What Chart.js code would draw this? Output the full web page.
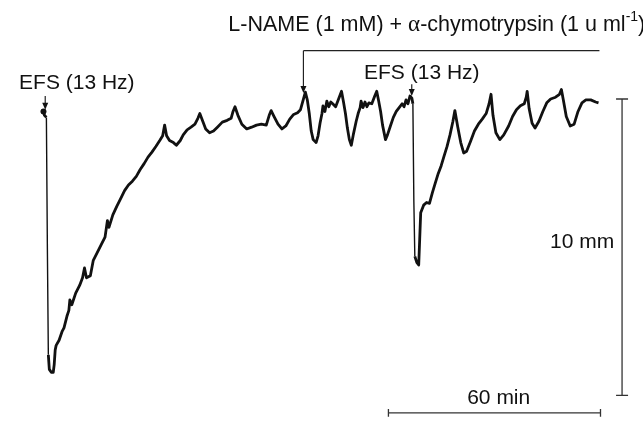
<!DOCTYPE html>
<html>
<head>
<meta charset="utf-8">
<script src="https://cdn.jsdelivr.net/npm/chart.js@4.4.0/dist/chart.umd.min.js"></script>
<style>
  html, body { margin: 0; padding: 0; background: #fff; }
  #trace { display: block; }
</style>
</head>
<body>
<canvas id="trace" width="643" height="424"></canvas>
<script>
// time (min) and tension (mm)
var timeMin = [0, 0.28, 0.83, 1.11, 1.38, 1.66, 2.21, 2.77, 3.04, 3.32, 3.59, 4.42, 5.25, 5.81, 6.64, 7.19, 7.47, 8.02, 9.12, 10.23,
  11.06, 11.61, 12.17, 13.27, 14.10, 15.21, 16.31, 17.42, 18.10, 18.53, 19.63, 20.74, 21.84, 22.95, 24.05, 25.16, 26.27, 27.37, 28.48, 29.58, 30.69,
  31.80, 32.90, 33.73, 34.28, 34.84, 35.67, 36.77, 37.60, 38.71, 39.54, 40.64, 41.75, 42.86, 43.69, 44.24, 45.07, 45.90, 47.00, 48.11, 49.21,
  50.60, 51.98, 53.09, 53.64, 54.19, 55.02, 56.13, 57.51, 58.89, 60.28, 61.66, 63.04, 63.87, 64.42, 65.25, 66.36, 67.46, 68.57, 69.68, 70.78,
  71.89, 72.72, 73.55, 74.10, 74.65, 75.21, 75.76, 76.31, 77.14, 77.69, 78.25, 78.80, 79.08, 79.63, 80.18, 80.74, 81.29, 81.84, 82.67, 83.50,
  84.33, 84.89, 85.44, 85.99, 86.55, 87.10, 87.65, 88.48, 89.03, 89.59, 89.86, 90.41, 90.97, 91.52, 92.07, 92.90, 93.73, 94.29, 94.84, 95.39,
  95.94, 96.77, 97.33, 98.16, 98.99, 99.82, 100.64, 101.47, 102.03, 102.58, 103.13, 103.69, 104.24, 104.52, 104.79, 105.07, 105.62, 106.17, 106.45, 106.73,
  107.56, 108.39, 109.21, 110.04, 110.87, 111.70, 112.53, 113.36, 114.19, 115.02, 115.85, 116.40, 117.23, 118.06, 118.89, 119.72, 120.82, 121.93, 123.04, 124.14,
  125.25, 126.08, 126.63, 127.18, 128.01, 129.12, 130.23, 131.61, 132.72, 133.82, 134.93, 136.03, 136.59, 136.86, 137.42, 138.25, 139.08, 140.18, 141.29, 142.39,
  143.50, 144.88, 145.99, 146.54, 147.09, 147.92, 149.03, 150.14, 151.24, 152.35, 153.46, 154.84, 156.22, 157.04];

var tensionMm = [9.58, 9.45, 9.38, 4.95, 1.37, 0.88, 0.78, 0.78, 1.04, 1.53, 1.69, 1.86, 2.15, 2.28, 2.67, 2.87, 3.22, 3.06, 3.45, 3.71,
  3.97, 4.30, 3.97, 4.04, 4.56, 4.82, 5.08, 5.34, 5.90, 5.67, 6.09, 6.38, 6.64, 6.91, 7.10, 7.23, 7.39, 7.62, 7.82, 8.04, 8.21,
  8.40, 8.60, 8.76, 9.12, 8.76, 8.60, 8.53, 8.44, 8.60, 8.79, 8.96, 9.05, 9.15, 9.35, 9.51, 9.25, 8.99, 8.86, 8.92, 9.05,
  9.22, 9.28, 9.35, 9.58, 9.74, 9.45, 9.15, 8.99, 9.05, 9.12, 9.15, 9.12, 9.45, 9.61, 9.41, 9.15, 8.99, 9.09, 9.32, 9.48,
  9.54, 9.64, 10.00, 10.23, 9.97, 9.51, 8.92, 8.63, 8.53, 8.76, 9.18, 9.51, 9.77, 9.58, 9.93, 9.74, 9.90, 9.84, 9.74, 10.00,
  10.26, 9.90, 9.51, 9.02, 8.63, 8.44, 8.79, 9.25, 9.51, 9.71, 9.93, 9.71, 9.90, 9.74, 9.87, 9.84, 10.10, 10.26, 9.93, 9.58,
  9.12, 8.63, 8.79, 9.09, 9.38, 9.58, 9.71, 9.84, 9.74, 9.97, 9.84, 10.10, 10.03, 9.84, 6.58, 4.69, 4.49, 4.40, 5.28, 6.16,
  6.42, 6.51, 6.48, 6.84, 7.17, 7.49, 7.75, 8.08, 8.40, 8.79, 9.25, 9.61, 9.05, 8.53, 8.18, 8.24, 8.57, 8.92, 9.15, 9.32,
  9.51, 9.84, 10.16, 9.45, 8.86, 8.63, 8.79, 9.09, 9.41, 9.64, 9.77, 9.84, 10.06, 10.26, 9.67, 9.18, 9.02, 9.25, 9.58, 9.87,
  10.00, 10.06, 10.16, 10.32, 9.97, 9.41, 9.09, 9.15, 9.58, 9.87, 9.97, 9.97, 9.90, 9.87];

// scale bars: 10 mm and 60 min
var barTension = [0, 10];
var barTime = [97.6, 157.6];

// event marks
var efsTimes = [0.5, 104.2];
var drugTime = 73.55;

var tracePoints = timeMin.map(function (t, i) { return { x: t, y: tensionMm[i] }; });

var sans = '"Liberation Sans", Arial, sans-serif';

var labels = {
  id: 'labels',
  afterDraw: function (chart) {
    var ctx = chart.ctx;
    var xs = chart.scales.x, ys = chart.scales.y;
    var X = function (v) { return xs.getPixelForValue(v); };
    var Y = function (v) { return ys.getPixelForValue(v); };
    ctx.save();
    ctx.fillStyle = '#111';
    ctx.strokeStyle = '#222';
    ctx.lineWidth = 1.2;
    ctx.font = '21px ' + sans;
    ctx.textBaseline = 'middle';

    function arrow(x, y0, y1) {
      ctx.beginPath();
      ctx.moveTo(x, y0);
      ctx.lineTo(x, y1 - 4);
      ctx.stroke();
      ctx.beginPath();
      ctx.moveTo(x - 3, y1 - 7);
      ctx.lineTo(x + 3, y1 - 7);
      ctx.lineTo(x, y1);
      ctx.closePath();
      ctx.fill();
    }

    // first EFS
    ctx.textAlign = 'left';
    ctx.fillText('EFS (13 Hz)', X(-6.9), Y(10.55));
    arrow(X(efsTimes[0]), Y(10.10), Y(9.64));

    // second EFS
    ctx.fillText('EFS (13 Hz)', X(90.7), Y(10.88));
    arrow(X(efsTimes[1]), Y(10.50), Y(10.10));

    // L-NAME + chymotrypsin bracket
    var xd = X(drugTime);
    ctx.beginPath();
    ctx.moveTo(X(157.3), Y(11.63));
    ctx.lineTo(xd, Y(11.63));
    ctx.stroke();
    arrow(xd, Y(11.63), Y(10.2));

    var tx = X(52.3), ty = Y(12.51);
    var big = '21.5px ' + sans;
    var parts = ['L-NAME (1 mM) + ', 'α', '-chymotrypsin (1 u ml'];
    ctx.font = big;
    ctx.fillText(parts[0], tx, ty); tx += ctx.measureText(parts[0]).width;
    ctx.font = '23px "Liberation Serif", "Times New Roman", serif';
    ctx.fillText(parts[1], tx, ty); tx += ctx.measureText(parts[1]).width;
    ctx.font = big;
    ctx.fillText(parts[2], tx, ty); tx += ctx.measureText(parts[2]).width;
    ctx.font = '14px ' + sans;
    ctx.fillText('-1', tx, ty - 7); tx += ctx.measureText('-1').width;
    ctx.font = big;
    ctx.fillText(')', tx, ty);

    // scale bar labels
    ctx.font = '21px ' + sans;
    ctx.textAlign = 'right';
    ctx.fillText('10 mm', X(161.5), Y(5.18));
    ctx.textAlign = 'center';
    ctx.fillText('60 min', X(128.8), Y(-0.10));
    ctx.restore();
  }
};

// thin pen stroke where the trace drops fast
function segWidth(c) {
  return Math.abs(c.p1.y - c.p0.y) > 40 ? 1.4 : 2.8;
}

new Chart(document.getElementById('trace'), {
  type: 'scatter',
  data: {
    datasets: [
      {
        data: tracePoints,
        showLine: true,
        borderColor: '#111',
        borderWidth: 2.8,
        segment: { borderWidth: segWidth },
        borderJoinStyle: 'round',
        pointRadius: function (c) { return c.dataIndex === 0 ? 3 : 0; },
        pointBackgroundColor: '#111',
        pointBorderWidth: 0,
        tension: 0
      },
      {
        data: barTension.map(function (v) { return { x: 163.7, y: v }; }),
        showLine: true,
        borderColor: '#333',
        borderWidth: 1.3,
        pointStyle: 'line',
        pointRadius: 6,
        pointBorderWidth: 1.3,
        pointBorderColor: '#333'
      },
      {
        data: barTime.map(function (v) { return { x: v, y: -0.59 }; }),
        showLine: true,
        borderColor: '#333',
        borderWidth: 1.3,
        pointStyle: 'line',
        pointRotation: 90,
        pointRadius: 4,
        pointBorderWidth: 1.3,
        pointBorderColor: '#333'
      }
    ]
  },
  options: {
    responsive: false,
    animation: false,
    layout: { padding: 0 },
    plugins: { legend: { display: false }, tooltip: { enabled: false } },
    scales: {
      x: { type: 'linear', min: -10.23, max: 167.56, display: false },
      y: { type: 'linear', min: -0.717, max: 13.094, display: false }
    }
  },
  plugins: [labels]
});
</script>
</body>
</html>
